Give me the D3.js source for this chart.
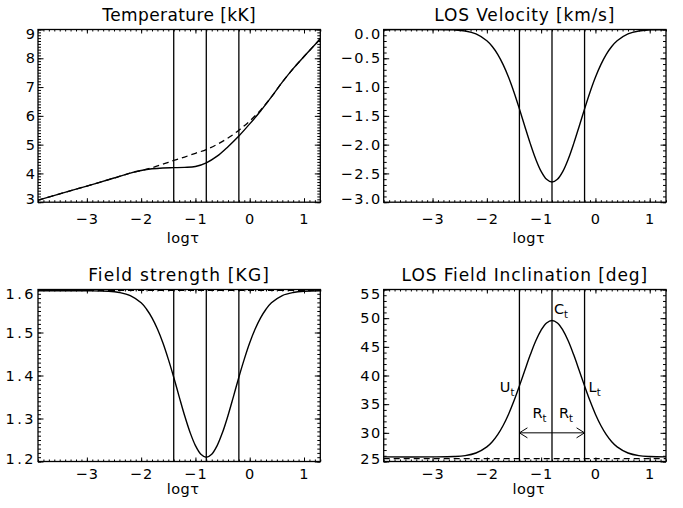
<!DOCTYPE html>
<html><head><meta charset="utf-8">
<script src="https://cdn.jsdelivr.net/npm/d3@7"></script>
<style>
body{margin:0;background:#fff}
svg text{font-family:"DejaVu Sans",sans-serif;fill:#000}
</style>
</head><body>
<svg id="c" width="683" height="508"></svg>
<script>
// ---------------- data ----------------
const xDomain = [-3.9, 1.3];
const xTickValues = [-3, -2, -1, 0, 1];

const tempX = [-3.9,-3.5,-3.0,-2.5,-2.2,-2.0,-1.8,-1.6,-1.4,-1.2,-1.0,-0.8,-0.6,-0.4,-0.2,0.0,0.2,0.4,0.6,0.8,1.0,1.2,1.3];
const tempPerturbed = [3.07,3.29,3.56,3.84,4.01,4.10,4.16,4.19,4.20,4.21,4.24,4.37,4.60,4.93,5.30,5.72,6.17,6.66,7.17,7.64,8.06,8.47,8.68];
const tempReference = [3.07,3.29,3.56,3.84,4.01,4.10,4.20,4.32,4.45,4.57,4.70,4.83,5.01,5.23,5.50,5.82,6.20,6.66,7.17,7.64,8.06,8.47,8.68];

const profX = [-3.9,-3.0,-2.6,-2.4,-2.2,-2.0,-1.9,-1.8,-1.7,-1.6,-1.5,-1.4,-1.3,-1.2,-1.1,-1.0,-0.9,-0.8,-0.7,-0.6,-0.5,-0.4,-0.3,-0.2,-0.1,0.0,0.1,0.2,0.3,0.4,0.6,0.8,1.0,1.3];
const velocity = [0,0,-0.007,-0.025,-0.076,-0.195,-0.295,-0.432,-0.610,-0.830,-1.089,-1.379,-1.684,-1.982,-2.251,-2.465,-2.602,-2.650,-2.602,-2.465,-2.251,-1.982,-1.684,-1.379,-1.089,-0.830,-0.610,-0.432,-0.295,-0.195,-0.076,-0.025,-0.007,0];
const fieldStrength = [1.597,1.597,1.596,1.593,1.586,1.569,1.554,1.534,1.508,1.476,1.438,1.396,1.351,1.307,1.268,1.237,1.217,1.210,1.217,1.237,1.268,1.307,1.351,1.396,1.438,1.476,1.508,1.534,1.554,1.569,1.586,1.593,1.596,1.597];
const fieldReference = 1.598;
const inclination = [25.80,25.80,25.87,26.03,26.48,27.55,28.45,29.68,31.28,33.25,35.58,38.19,40.92,43.60,46.02,47.93,49.17,49.60,49.17,47.93,46.02,43.60,40.92,38.19,35.58,33.25,31.28,29.68,28.45,27.55,26.48,26.03,25.87,25.80];
const inclinationReference = 25.5;

const nodeX = [-1.4, -0.8, -0.2];          // U_t, C_t, L_t
const arrowLevel = 30;                      // R_t arrow height (deg)

const tempTicks = [3,4,5,6,7,8,9];
const velTicks = [-3.0,-2.5,-2.0,-1.5,-1.0,-0.5,0.0];
const fieldTicks = [1.2,1.3,1.4,1.5,1.6];
const inclTicks = [25,30,35,40,45,50,55];

// ---------------- drawing ----------------
const svg = d3.select("#c");

function minorValues(domain, step){
  const lo = Math.min(domain[0],domain[1]), hi = Math.max(domain[0],domain[1]);
  const out = [];
  const n0 = Math.ceil(lo/step - 1e-6), n1 = Math.floor(hi/step + 1e-6);
  for(let i=n0;i<=n1;i++) out.push(+(i*step).toFixed(6));
  return out;
}

function panel(o){
  const g = svg.append("g").attr("transform",`translate(${o.left},${o.top})`);
  const w = o.width, h = o.height;
  const x = d3.scaleLinear().domain(xDomain).range([0,w]);
  const y = d3.scaleLinear().domain(o.yDomain).range([h,0]);
  const clipId = "clip"+o.id;
  g.append("clipPath").attr("id",clipId).append("rect").attr("width",w).attr("height",h);

  const xMinor = minorValues(xDomain, 0.1);
  const yMinor = minorValues(o.yDomain, o.yMinor);

  function style(sel, ls){
    sel.select(".domain").remove();
    sel.selectAll("line").attr("stroke","#000").attr("stroke-width",1);
    sel.selectAll("text").attr("font-size",14.5).attr("letter-spacing",ls||0)
      .attr("font-family","DejaVu Sans, sans-serif").attr("fill","#000");
  }
  // bottom
  g.append("g").attr("transform",`translate(0,${h})`)
    .call(d3.axisBottom(x).tickValues(xMinor).tickSize(-2).tickFormat("")).call(style);
  g.append("g").attr("transform",`translate(0,${h})`)
    .call(d3.axisBottom(x).tickValues(xTickValues).tickSize(-4).tickPadding(o.xPad).tickFormat(d3.format("d")))
    .call(s=>style(s,1.2));
  // top
  g.append("g").call(d3.axisTop(x).tickValues(xMinor).tickSize(-2).tickFormat("")).call(style);
  g.append("g").call(d3.axisTop(x).tickValues(xTickValues).tickSize(-4).tickFormat("")).call(style);
  // left
  g.append("g").call(d3.axisLeft(y).tickValues(yMinor).tickSize(-3).tickFormat("")).call(style);
  const la = g.append("g").call(d3.axisLeft(y).tickValues(o.yTicks).tickSize(-5.5).tickPadding(2).tickFormat(d3.format(o.yFmt)))
    .call(s=>style(s,o.yLs));
  la.selectAll(".tick text").attr("dy", (d,i,n)=> i===n.length-1 ? "0.62em" : (i===0 ? "0.12em" : "0.32em"));
  // right
  g.append("g").attr("transform",`translate(${w},0)`)
    .call(d3.axisRight(y).tickValues(yMinor).tickSize(-3).tickFormat("")).call(style);
  g.append("g").attr("transform",`translate(${w},0)`)
    .call(d3.axisRight(y).tickValues(o.yTicks).tickSize(-5.5).tickFormat("")).call(style);

  // frame
  g.append("rect").attr("width",w).attr("height",h).attr("fill","none").attr("stroke","#000").attr("stroke-width",1.3);

  // title & x label
  g.append("text").attr("x",w/2).attr("y",-8.8).attr("text-anchor","middle")
    .attr("font-size",17).attr("letter-spacing",o.titleLs).text(o.title);
  g.append("text").attr("x",w/2+4).attr("y",h+o.xLabelY).attr("text-anchor","middle")
    .attr("font-size",14.5).attr("letter-spacing",0.5).text("log\u03C4");

  const plot = g.append("g").attr("clip-path",`url(#${clipId})`);
  // node lines
  plot.selectAll("line.node").data(nodeX).join("line").attr("class","node")
    .attr("x1",d=>x(d)).attr("x2",d=>x(d)).attr("y1",0).attr("y2",h)
    .attr("stroke","#000").attr("stroke-width",1.3);

  const line = d3.line().x(d=>x(d[0])).y(d=>y(d[1])).curve(d3.curveCatmullRom.alpha(0.5));
  (o.dashed||[]).forEach(s=>{
    plot.append("path").datum(s).attr("d",line).attr("fill","none")
      .attr("stroke","#000").attr("stroke-width",1.3).attr("stroke-dasharray","6,4");
  });
  (o.solid||[]).forEach(s=>{
    plot.append("path").datum(s).attr("d",line).attr("fill","none")
      .attr("stroke","#000").attr("stroke-width",1.4);
  });
  return {g,x,y,w,h};
}

const zip = (xs,ys)=>xs.map((v,i)=>[v,ys[i]]);
const flat = (v)=>[[xDomain[0],v],[xDomain[1],v]];

const L1 = 38, L2 = 383.7, W = 282.3, T1 = 29.5, T2 = 289.5, H1 = 172.7, H2 = 172;

panel({id:1,left:L1,top:T1,width:W,height:H1,yDomain:[3,9],yTicks:tempTicks,yMinor:0.1,yFmt:"d",yLs:1,
  title:"Temperature [kK]",titleLs:0.4,xPad:12,xLabelY:41,
  solid:[zip(tempX,tempPerturbed)],dashed:[zip(tempX,tempReference)]});
panel({id:2,left:L2,top:T1,width:W,height:H1,yDomain:[-3,0],yTicks:velTicks,yMinor:0.1,yFmt:".1f",yLs:1.5,
  title:"LOS Velocity [km/s]",titleLs:0.85,xPad:12,xLabelY:41,
  solid:[zip(profX,velocity)]});
panel({id:3,left:L1,top:T2,width:W,height:H2,yDomain:[1.2,1.6],yTicks:fieldTicks,yMinor:0.01,yFmt:".1f",yLs:2.5,
  title:"Field strength [KG]",titleLs:1.2,xPad:7,xLabelY:32,
  solid:[zip(profX,fieldStrength)],dashed:[flat(fieldReference)]});
const p4 = panel({id:4,left:L2,top:T2,width:W,height:H2,yDomain:[25,55],yTicks:inclTicks,yMinor:1,yFmt:"d",yLs:1.5,
  title:"LOS Field Inclination [deg]",titleLs:0.9,xPad:7,xLabelY:32,
  solid:[zip(profX,inclination)],dashed:[flat(inclinationReference)]});

// annotations on inclination panel
(function(){
  const {g,x,y} = p4;
  const ann = g.append("g");
  function lab(tx,ty,main,anchor){
    const t = ann.append("text").attr("x",tx).attr("y",ty).attr("font-size",14.5).attr("text-anchor",anchor||"start");
    t.append("tspan").text(main);
    t.append("tspan").attr("font-size",10).attr("dy",4).text("t");
  }
  const yMid = y(37.7);
  lab(x(nodeX[0])-5, yMid+3, "U", "end");
  lab(x(nodeX[2])+4, yMid+3, "L", "start");
  lab(x(nodeX[1])+2, y(50.8), "C", "start");
  const ya = y(arrowLevel);
  lab(x(nodeX[0])+13, ya-15, "R", "start");
  lab(x(nodeX[1])+7, ya-15, "R", "start");
  ann.append("line").attr("x1",x(nodeX[0])).attr("x2",x(nodeX[2])).attr("y1",ya).attr("y2",ya)
    .attr("stroke","#000").attr("stroke-width",1);
  const ah = 8, aw = 5;
  ann.append("path").attr("d",`M${x(nodeX[0])+ah},${ya-aw}L${x(nodeX[0])},${ya}L${x(nodeX[0])+ah},${ya+aw}`)
    .attr("fill","none").attr("stroke","#000").attr("stroke-width",1);
  ann.append("path").attr("d",`M${x(nodeX[2])-ah},${ya-aw}L${x(nodeX[2])},${ya}L${x(nodeX[2])-ah},${ya+aw}`)
    .attr("fill","none").attr("stroke","#000").attr("stroke-width",1);
})();
</script>
</body></html>
